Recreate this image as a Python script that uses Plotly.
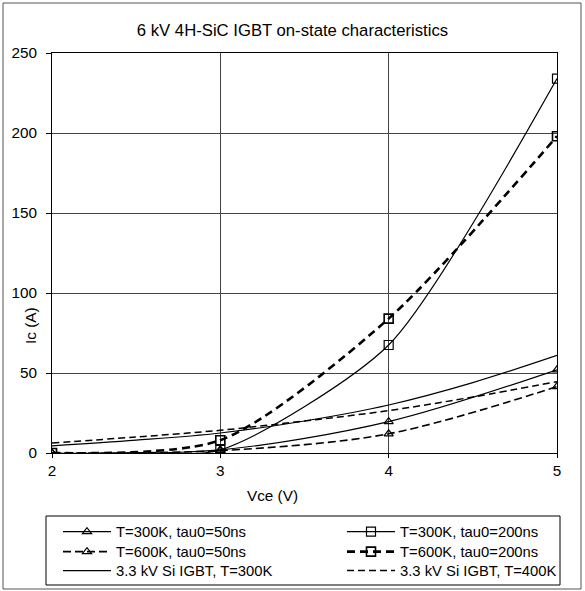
import plotly.graph_objects as go

# ---- data ----
vce_sic = [2, 3, 4, 5]
ic_300k_50ns = [0, 2, 19.6, 52]
ic_300k_200ns = [0, 2, 67.5, 234]
ic_600k_50ns = [0, 1.5, 12, 41.5]
ic_600k_200ns = [0, 8, 84, 198]

vce_si = [2, 2.5, 3, 3.5, 4, 4.5, 5]
ic_si_300k = [4.5, 8, 12.5, 20, 30, 44, 61]
ic_si_400k = [6.3, 10, 14.2, 20, 26.5, 35, 44.6]

names = [
    "T=300K, tau0=50ns",
    "T=300K, tau0=200ns",
    "T=600K, tau0=50ns",
    "T=600K, tau0=200ns",
    "3.3 kV Si IGBT, T=300K",
    "3.3 kV Si IGBT, T=400K",
]

FONT = "Liberation Sans, Arial, sans-serif"

# plot area: x 52..557 px, y 53..453 px
W, H = 585, 591
L, R, T, B = 52, 28, 53, 138
pw, ph = W - L - R, H - T - B

def px2paper_x(px):
    return (px - L) / pw

def py2paper_y(py):
    return (H - B - py) / ph

fig = go.Figure()

fig.add_trace(go.Scatter(
    x=vce_sic, y=ic_300k_50ns, name=names[0], mode="lines+markers", legend="legend",
    line=dict(color="black", width=1.2, shape="spline", smoothing=0.9),
    marker=dict(symbol="triangle-up-open", size=8, color="black", line=dict(width=1.2))))
fig.add_trace(go.Scatter(
    x=vce_sic, y=ic_300k_200ns, name=names[1], mode="lines+markers", legend="legend2",
    line=dict(color="black", width=1.2, shape="spline", smoothing=0.65),
    marker=dict(symbol="square-open", size=9, color="black", line=dict(width=1.2))))
fig.add_trace(go.Scatter(
    x=vce_sic, y=ic_600k_50ns, name=names[2], mode="lines+markers", legend="legend3",
    line=dict(color="black", width=1.6, shape="spline", smoothing=0.9, dash="8px,4px"),
    marker=dict(symbol="triangle-up-open", size=8, color="black", line=dict(width=1.2))))
fig.add_trace(go.Scatter(
    x=vce_sic, y=ic_600k_200ns, name=names[3], mode="lines+markers", legend="legend4",
    line=dict(color="black", width=2.6, shape="spline", smoothing=0.75, dash="8px,5px"),
    marker=dict(symbol="square-open", size=9, color="black", line=dict(width=1.6))))
fig.add_trace(go.Scatter(
    x=vce_si, y=ic_si_300k, name=names[4], mode="lines", legend="legend5",
    line=dict(color="black", width=1.2, shape="spline")))
fig.add_trace(go.Scatter(
    x=vce_si, y=ic_si_400k, name=names[5], mode="lines", legend="legend6",
    line=dict(color="black", width=1.5, shape="spline", dash="7px,4px")))

leg_common = dict(
    orientation="v", yanchor="middle", xanchor="left",
    bgcolor="rgba(0,0,0,0)", borderwidth=0,
    font=dict(size=14.8, family=FONT, color="black"),
    itemwidth=48, tracegroupgap=0,
)
col_x = [58, 342]
row_y = [532, 552, 571]
legends = {}
for i in range(6):
    key = "legend" if i == 0 else f"legend{i + 1}"
    legends[key] = dict(x=px2paper_x(col_x[i % 2]), y=py2paper_y(row_y[i // 2]), **leg_common)

fig.update_layout(
    width=W, height=H,
    margin=dict(l=L, r=R, t=T, b=B, autoexpand=False),
    paper_bgcolor="white", plot_bgcolor="white",
    font=dict(family=FONT, size=15, color="black"),
    title=dict(text="6 kV 4H-SiC IGBT on-state characteristics",
               x=0.5, xanchor="center", y=1 - 30 / H, yanchor="middle",
               font=dict(size=16.7, family=FONT, color="black")),
    showlegend=True,
    shapes=[
        dict(type="rect", xref="paper", yref="paper",
             x0=px2paper_x(3), x1=px2paper_x(581),
             y0=py2paper_y(589), y1=py2paper_y(3),
             line=dict(color="#555", width=1), layer="below"),
        dict(type="rect", xref="paper", yref="paper",
             x0=px2paper_x(46), x1=px2paper_x(560),
             y0=py2paper_y(585), y1=py2paper_y(516),
             line=dict(color="black", width=1), layer="below"),
    ],
    annotations=[
        dict(text="Ic (A)", xref="paper", yref="paper",
             x=px2paper_x(30), y=py2paper_y(326), xanchor="center", yanchor="middle",
             textangle=-90, showarrow=False, font=dict(size=15.3, family=FONT)),
        dict(text="Vce (V)", xref="paper", yref="paper",
             x=px2paper_x(272), y=py2paper_y(495), xanchor="center", yanchor="middle",
             showarrow=False, font=dict(size=15.3, family=FONT)),
    ],
    **legends,
)

fig.update_xaxes(
    range=[2, 5], dtick=1, tick0=2,
    showgrid=True, gridcolor="#444", gridwidth=1,
    showline=True, linecolor="black", linewidth=1, mirror=True,
    ticks="outside", ticklen=4, tickcolor="black",
    zeroline=False,
    tickfont=dict(size=15.3, family=FONT),
)
fig.update_yaxes(
    range=[0, 250], dtick=50, tick0=0,
    showgrid=True, gridcolor="#444", gridwidth=1,
    showline=True, linecolor="black", linewidth=1, mirror=True,
    ticks="outside", ticklen=5, tickcolor="black",
    zeroline=False, ticklabelstandoff=6,
    tickfont=dict(size=15.3, family=FONT),
)

fig.write_html("out.html")
